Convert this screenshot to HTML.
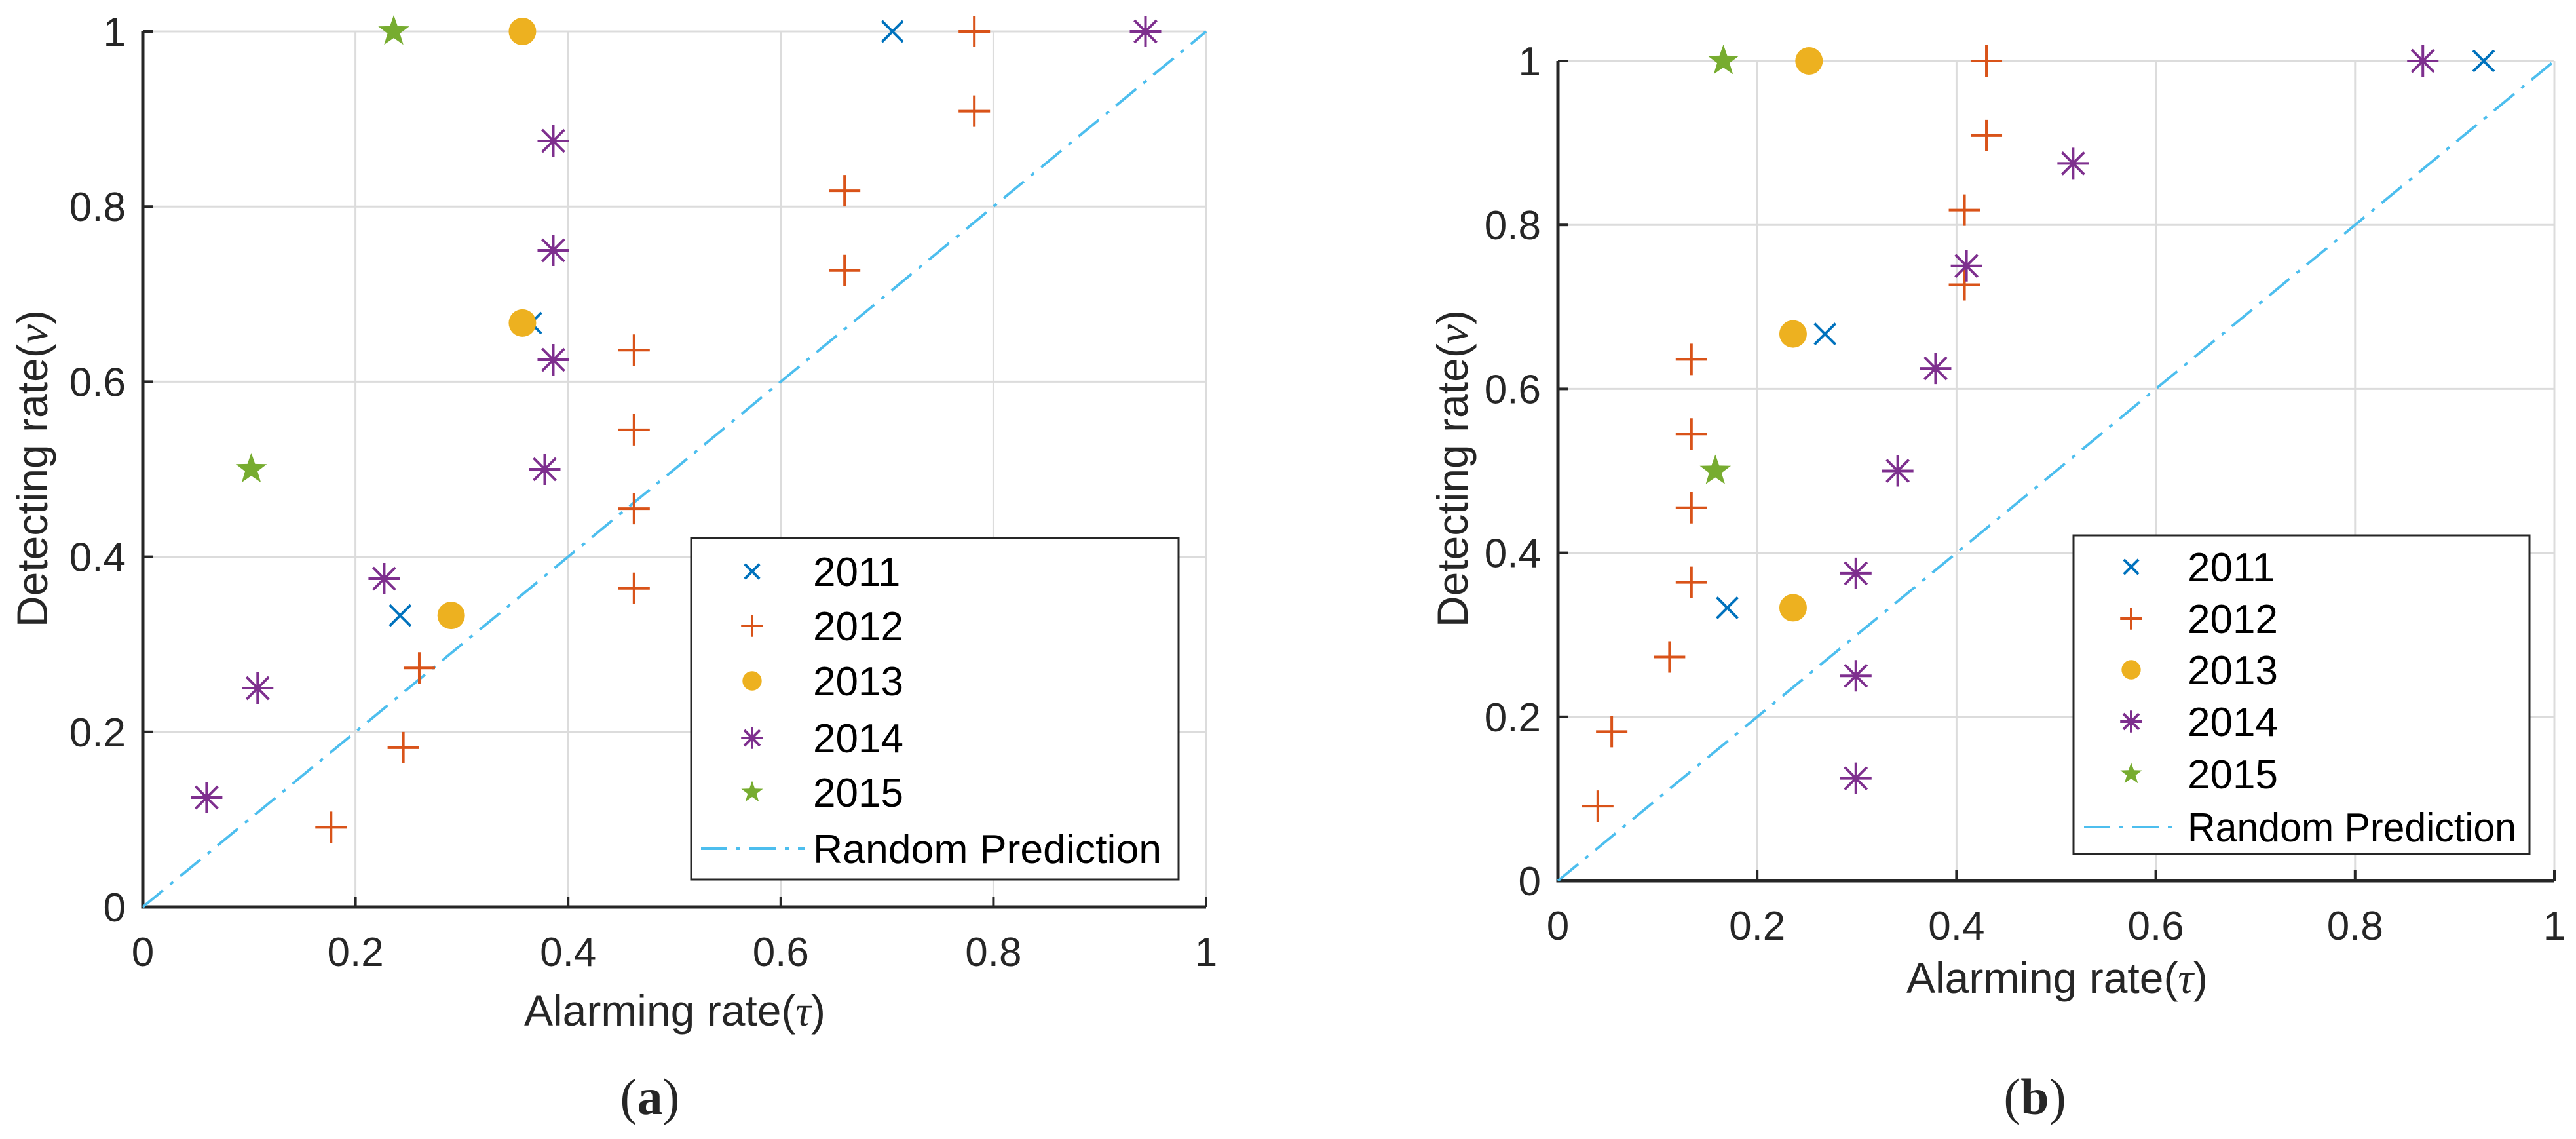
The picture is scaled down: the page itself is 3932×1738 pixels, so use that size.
<!DOCTYPE html>
<html><head><meta charset="utf-8">
<style>
html,body{margin:0;padding:0;background:#fff;}
svg{display:block;}
text{font-family:"Liberation Sans",sans-serif;fill:#262626;}
</style></head>
<body>
<svg id="chart" width="3932" height="1738" viewBox="0 0 3932 1738" xmlns="http://www.w3.org/2000/svg"></svg>
<script>
// ---- data (panel a) ----
const a2011x=[0.705,0.365,0.242]; const a2011y=[1,0.667,0.333];
const a2012x=[0.782,0.782,0.66,0.66,0.462,0.462,0.462,0.462,0.26,0.245,0.177];
const a2012y=[1,0.909,0.818,0.727,0.636,0.545,0.455,0.364,0.273,0.182,0.091];
const a2013x=[0.357,0.357,0.29]; const a2013y=[1,0.667,0.333];
const a2014x=[0.943,0.386,0.386,0.386,0.378,0.227,0.108,0.06];
const a2014y=[1,0.875,0.75,0.625,0.5,0.375,0.25,0.125];
const a2015x=[0.236,0.102]; const a2015y=[1,0.5];
// ---- data (panel b) ----
const b2011x=[0.929,0.268,0.17]; const b2011y=[1,0.667,0.333];
const b2012x=[0.43,0.43,0.408,0.408,0.134,0.134,0.134,0.134,0.112,0.054,0.04];
const b2012y=[1,0.909,0.818,0.727,0.636,0.545,0.455,0.364,0.273,0.182,0.091];
const b2013x=[0.252,0.236,0.236]; const b2013y=[1,0.667,0.333];
const b2014x=[0.868,0.517,0.41,0.379,0.341,0.299,0.299,0.299];
const b2014y=[1,0.875,0.75,0.625,0.5,0.375,0.25,0.125];
const b2015x=[0.166,0.158]; const b2015y=[1,0.5];
const tickVals=[0,0.2,0.4,0.6,0.8,1];
const tickLabels=["0","0.2","0.4","0.6","0.8","1"];
const years=["2011","2012","2013","2014","2015"];

const NS="http://www.w3.org/2000/svg";
const svg=document.getElementById('chart');
function mk(tag,attrs,parent){const e=document.createElementNS(NS,tag);for(const k in attrs)e.setAttribute(k,attrs[k]);(parent||svg).appendChild(e);return e;}
const COL={x:"#0072BD",p:"#D95319",o:"#EDB120",a:"#7E2F8E",s:"#77AC30"};

function marker(g,type,cx,cy,sc){
  sc=sc||1;let e;
  if(type==='x'){const d=16*sc;e=mk('path',{d:`M${cx-d},${cy-d}L${cx+d},${cy+d}M${cx-d},${cy+d}L${cx+d},${cy-d}`,stroke:COL.x,'stroke-width':4,fill:'none'},g);}
  else if(type==='p'){const d=24*sc;e=mk('path',{d:`M${cx-d},${cy}L${cx+d},${cy}M${cx},${cy-d}L${cx},${cy+d}`,stroke:COL.p,'stroke-width':4,fill:'none'},g);}
  else if(type==='o'){e=mk('circle',{cx:cx,cy:cy,r:21*sc,fill:COL.o},g);}
  else if(type==='a'){const d=24*sc,q=17*sc;e=mk('path',{d:`M${cx},${cy-d}L${cx},${cy+d}M${cx-d},${cy}L${cx+d},${cy}M${cx-q},${cy-q}L${cx+q},${cy+q}M${cx-q},${cy+q}L${cx+q},${cy-q}`,stroke:COL.a,'stroke-width':4,fill:'none'},g);}
  else {let pts=[];for(let i=0;i<10;i++){const r=(i%2?10:25)*sc;const t=-Math.PI/2+i*Math.PI/5;pts.push((cx+r*Math.cos(t)).toFixed(1)+','+(cy+r*Math.sin(t)).toFixed(1));}e=mk('polygon',{points:pts.join(' '),fill:COL.s},g);}
  return e;
}

function panel(P){
  const g=mk('g',{});
  
  
  const sx=v=>P.x0+v*(P.x1-P.x0), sy=v=>P.y0+v*(P.y1-P.y0);
  tickVals.forEach((v,i)=>{
    if(v>0){const l=mk('line',{x1:sx(v),x2:sx(v),y1:P.y0,y2:P.y1,stroke:'#dcdcdc','stroke-width':3},g);
    const l2=mk('line',{x1:P.x0,x2:P.x1,y1:sy(v),y2:sy(v),stroke:'#dcdcdc','stroke-width':3},g);}
  });
  const ax=mk('path',{d:`M${P.x0},${P.y1}L${P.x0},${P.y0}L${P.x1},${P.y0}`,stroke:'#262626','stroke-width':5,fill:'none'},g);
  
  tickVals.forEach((v,i)=>{
    mk('line',{x1:sx(v),x2:sx(v),y1:P.y0,y2:P.y0-16,stroke:'#262626','stroke-width':4},g);
    mk('line',{x1:P.x0,x2:P.x0+16,y1:sy(v),y2:sy(v),stroke:'#262626','stroke-width':4},g);
    const t=mk('text',{x:sx(v),y:P.y0+90,'font-size':62,'text-anchor':'middle'},g);t.textContent=tickLabels[i];
    
    const t2=mk('text',{x:P.x0-26,y:sy(v)+22,'font-size':62,'text-anchor':'end'},g);t2.textContent=tickLabels[i];
    
  });
  const dl=mk('line',{x1:sx(0),y1:sy(0),x2:sx(1),y2:sy(1),stroke:'#4DBEEE','stroke-width':4,'stroke-dasharray':'40 14 6 14'},g);
  
  const series=[['x',P.d[0],P.d[1]],['p',P.d[2],P.d[3]],['o',P.d[4],P.d[5]],['a',P.d[6],P.d[7]],['s',P.d[8],P.d[9]]];
  series.forEach((s,si)=>{s[1].forEach((xv,i)=>{const m=marker(g,s[0],sx(xv),sy(s[2][i]));});});
  const xt=mk('text',{x:P.xtx,y:P.xty,'font-size':66,'text-anchor':'middle'},g);
  xt.innerHTML='Alarming rate(<tspan font-family="Liberation Serif" font-style="italic">τ</tspan>)';
  
  const yt=mk('text',{x:0,y:0,'font-size':66,'text-anchor':'middle',transform:`translate(${P.ytx},${P.yty}) rotate(-90)`},g);
  yt.innerHTML='Detecting rate(<tspan font-family="Liberation Serif" font-style="italic">ν</tspan>)';
  
  const L=P.leg;
  const lg=mk('g',{},g);
  mk('rect',{x:L.x0,y:L.y0,width:L.x1-L.x0,height:L.y1-L.y0,fill:'#fff',stroke:'#262626','stroke-width':3},lg);
  const types=['x','p','o','a','s'];
  types.forEach((tp,i)=>{
    marker(lg,tp,L.mx,L.ys[i],0.7);
    const t=mk('text',{x:L.tx,y:L.ys[i]+22,'font-size':62},lg);t.textContent=years[i];
    t.style.fill='#000';
    
  });
  mk('line',{x1:L.lx0,x2:L.lx1,y1:L.ys[5],y2:L.ys[5],stroke:'#4DBEEE','stroke-width':4,'stroke-dasharray':'40 14 6 14'},lg);
  const rt=mk('text',{x:L.tx,y:L.ys[5]+22,'font-size':62,textLength:L.tw,lengthAdjust:'spacingAndGlyphs'},lg);rt.textContent='Random Prediction';
  rt.style.fill='#000';
  
  const c=mk('text',{x:P.cx,y:P.cy,'font-size':78,'text-anchor':'middle'},g);
  c.style.fontFamily='"Liberation Serif",serif';
  c.innerHTML='(<tspan font-weight="bold">'+P.cap+'</tspan>)';
  
}

panel({name:'panel-a',x0:218,x1:1841,y0:1384,y1:48,
  d:[a2011x,a2011y,a2012x,a2012y,a2013x,a2013y,a2014x,a2014y,a2015x,a2015y],
  xtx:1030,xty:1565,ytx:72,yty:715,cx:992,cy:1700,cap:'a',
  leg:{x0:1055,x1:1799,y0:821,y1:1342,mx:1148,tx:1241,lx0:1070,lx1:1228,tw:532,ys:[872,955,1039,1126,1209,1295]}});
panel({name:'panel-b',x0:2378,x1:3899,y0:1344,y1:93,
  d:[b2011x,b2011y,b2012x,b2012y,b2013x,b2013y,b2014x,b2014y,b2015x,b2015y],
  xtx:3140,xty:1515,ytx:2240,yty:715,cx:3106,cy:1700,cap:'b',
  leg:{x0:3165,x1:3861,y0:817,y1:1303,mx:3253,tx:3339,lx0:3181,lx1:3329,tw:502,ys:[865,944,1022,1101,1181,1262]}});
</script>
</body></html>
